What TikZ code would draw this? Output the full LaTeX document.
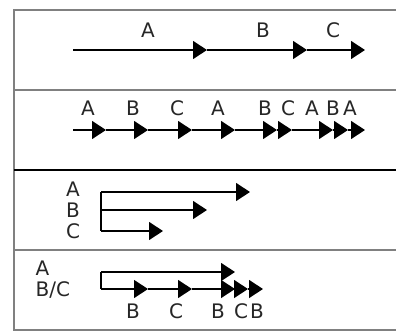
\documentclass[tikz,border=0pt]{standalone}
\usepackage{fontspec}
\setmainfont{DejaVu Sans}
\usepackage{xcolor}
\usetikzlibrary{arrows.meta}

\begin{document}
\begin{tikzpicture}[>={Triangle[length=14pt, width=18pt]}, x=1pt, y=-1pt, line width=1.3pt,
    lbl/.style={inner sep=0pt, text=black!85, font=\fontsize{20}{22}\selectfont},
    frame/.style={draw=black!50, line width=1.4pt}]
		\useasboundingbox (0, 0) rectangle (396, 332);
		\node (f1) at (14, 10) {};
		\node (f2) at (396, 10) {};
		\node (f3) at (14, 90) {};
		\node (f4) at (396, 90) {};
		\node (f5) at (14, 170) {};
		\node (f6) at (396, 170) {};
		\node (f7) at (14, 250) {};
		\node (f8) at (396, 250) {};
		\node (f9) at (14, 330) {};
		\node (f10) at (396, 330) {};
		\draw [frame] (f2.center) to (f1.center) to (f9.center) to (f10.center);
		\draw [frame] (f3.center) to (f4.center);
		\draw [frame, draw=black, line width=1.7pt] (f5.center) to (f6.center);
		\draw [frame] (f7.center) to (f8.center);
		% top panel
		\node (s1) at (73, 50) {};
		\node (a1) at (207, 50) {};
		\node (b1) at (307, 50) {};
		\node (c1) at (365, 50) {};
		\draw [->] (s1.center) to (a1.center);
		\draw [->] (a1.center) to (b1.center);
		\draw [->] (b1.center) to (c1.center);
		\node [lbl] (la1) at (148, 30) {A};
		\node [lbl] (lb1) at (263, 30) {B};
		\node [lbl] (lc1) at (333, 30) {C};
		% second panel
		\node (s2) at (73, 130) {};
		\node (t1) at (106, 130) {};
		\node (t2) at (148, 130) {};
		\node (t3) at (192, 130) {};
		\node (t4) at (235, 130) {};
		\node (t5) at (277, 130) {};
		\node (t6) at (292, 130) {};
		\node (t7) at (333, 130) {};
		\node (t8) at (348, 130) {};
		\node (t9) at (365, 130) {};
		\draw [->] (s2.center) to (t1.center);
		\draw [->] (t1.center) to (t2.center);
		\draw [->] (t2.center) to (t3.center);
		\draw [->] (t3.center) to (t4.center);
		\draw [->] (t4.center) to (t5.center);
		\draw [->] (t5.center) to (t6.center);
		\draw [->] (t6.center) to (t7.center);
		\draw [->] (t7.center) to (t8.center);
		\draw [->] (t8.center) to (t9.center);
		\node [lbl] (l1) at (88, 108) {A};
		\node [lbl] (l2) at (133, 108) {B};
		\node [lbl] (l3) at (177, 108) {C};
		\node [lbl] (l4) at (218, 108) {A};
		\node [lbl] (l5) at (265, 108) {B};
		\node [lbl] (l6) at (288, 108) {C};
		\node [lbl] (l7) at (312, 108) {A};
		\node [lbl] (l8) at (333, 108) {B};
		\node [lbl] (l9) at (350, 108) {A};
		% third panel
		\node (u1) at (101, 192) {};
		\node (u2) at (101, 210) {};
		\node (u3) at (101, 231) {};
		\node (ea) at (250, 192) {};
		\node (eb) at (207, 210) {};
		\node (ec) at (163, 231) {};
		\draw (u1.center) to (u3.center);
		\draw [->] (u1.center) to (ea.center);
		\draw [->] (u2.center) to (eb.center);
		\draw [->] (u3.center) to (ec.center);
		\node [lbl] (ma) at (73, 189) {A};
		\node [lbl] (mb) at (73, 210) {B};
		\node [lbl] (mc) at (73, 231) {C};
		% bottom panel
		\node (v1) at (101, 272) {};
		\node (v2) at (101, 289) {};
		\node (w0) at (235, 272) {};
		\node (w1) at (148, 289) {};
		\node (w2) at (192, 289) {};
		\node (w3) at (235, 289) {};
		\node (w4) at (248, 289) {};
		\node (w5) at (263, 289) {};
		\draw (v1.center) to (v2.center);
		\draw [->] (v1.center) to (w0.center);
		\draw [->] (v2.center) to (w1.center);
		\draw [->] (w1.center) to (w2.center);
		\draw [->] (w2.center) to (w3.center);
		\draw [->] (w3.center) to (w4.center);
		\draw [->] (w4.center) to (w5.center);
		\node [lbl, anchor=west] (na) at (35, 268) {A};
		\node [lbl, anchor=west] (nbc) at (35, 290) {B/C};
		\node [lbl] (n1) at (133, 311) {B};
		\node [lbl] (n2) at (176, 311) {C};
		\node [lbl] (n3) at (218, 311) {B};
		\node [lbl] (n4) at (241, 311) {C};
		\node [lbl] (n5) at (257, 311) {B};
    \end{tikzpicture}
\end{document}
